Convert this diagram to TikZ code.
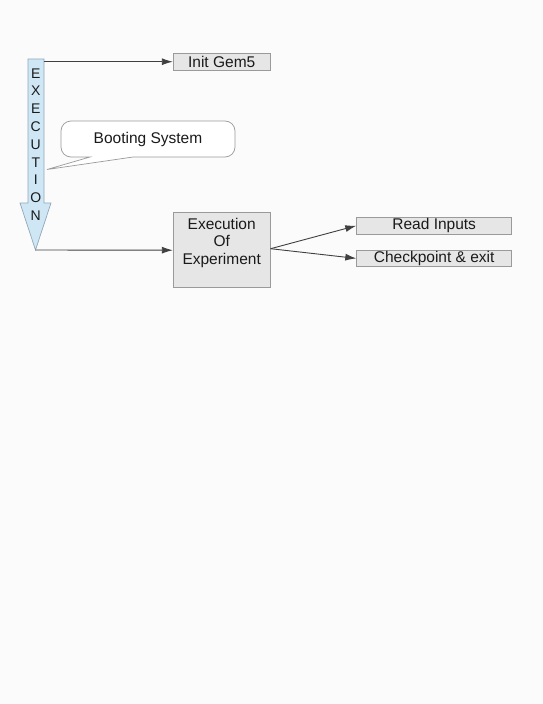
\documentclass[tikz,border=0pt]{standalone}
\usepackage{fontspec}
\setmainfont{Liberation Sans}
\usetikzlibrary{arrows.meta}
\definecolor{boxfill}{HTML}{E6E6E6}
\definecolor{boxline}{HTML}{9A9A9A}
\definecolor{arrowfill}{HTML}{CFE6F5}
\definecolor{arrowline}{HTML}{8FA8B8}
\definecolor{txt}{HTML}{1A1A1A}
\definecolor{bg}{HTML}{FBFBFB}
\tikzset{
  box/.style={draw=boxline, fill=boxfill, line width=0.8pt, inner sep=0pt,
    text=txt, font=\fontsize{15.5}{17.6}\selectfont},
  conn/.style={draw=black!75, line width=0.9pt, -{Latex[length=11pt,width=7pt]}},
  callout/.style={draw=boxline, fill=white, line width=0.7pt},
}
\begin{document}
\begin{tikzpicture}[x=1pt,y=-1pt]
\fill[bg] (0,0) rectangle (543,704);
\useasboundingbox (0,0) rectangle (543,704);

% execution arrow
\draw[fill=arrowfill, draw=arrowline, line width=0.7pt]
  (28,59) -- (44,59) -- (44,203) -- (51,203) -- (35.5,250) -- (20,203) -- (28,203) -- cycle;
\coordinate (exetop) at (44,61.7);
\coordinate (exetip) at (35.5,250);
\node[text=txt, align=center, inner sep=0pt, font=\fontsize{14}{17.8}\selectfont]
  (exetext) at (35.8,144.5) {E\\X\\E\\C\\U\\T\\I\\O\\N};

% callout
\draw[callout] (71,121) -- (225,121) arc (270:360:10) -- (235,147) arc (0:90:10)
  -- (133,157) -- (47,169.5) -- (90,157) -- (71,157) arc (90:180:10) -- (61,131) arc (180:270:10) -- cycle;
\node[text=txt, font=\fontsize{15.5}{17.6}\selectfont, inner sep=0pt] (boot) at (148,139) {Booting System};

% boxes
\node[box, minimum width=97pt, minimum height=17pt] (init) at (221.7,61.7) {Init Gem5};
\node[box, minimum width=97pt, minimum height=75pt,
  label={[align=center, anchor=north, inner sep=0pt, yshift=-5.6pt, text=txt,
    font=\fontsize{15.5}{17.6}\selectfont]north:Execution\\Of\\Experiment}] (exp) at (221.7,250.2) {};
\node[box, minimum width=155pt, minimum height=16.7pt] (read) at (434.2,225.7) {Read Inputs};
\node[box, minimum width=155pt, minimum height=16.7pt] (chk) at (434.2,258.4) {Checkpoint \& exit};

% connectors
\draw[conn] (exetop) -- (init.west);
\draw[conn] (exetip) -- (exp.west);
\draw[conn] ([yshift=1.5pt]exp.east) -- (read.west);
\draw[conn] ([yshift=1.5pt]exp.east) -- (chk.west);
\end{tikzpicture}
\end{document}
